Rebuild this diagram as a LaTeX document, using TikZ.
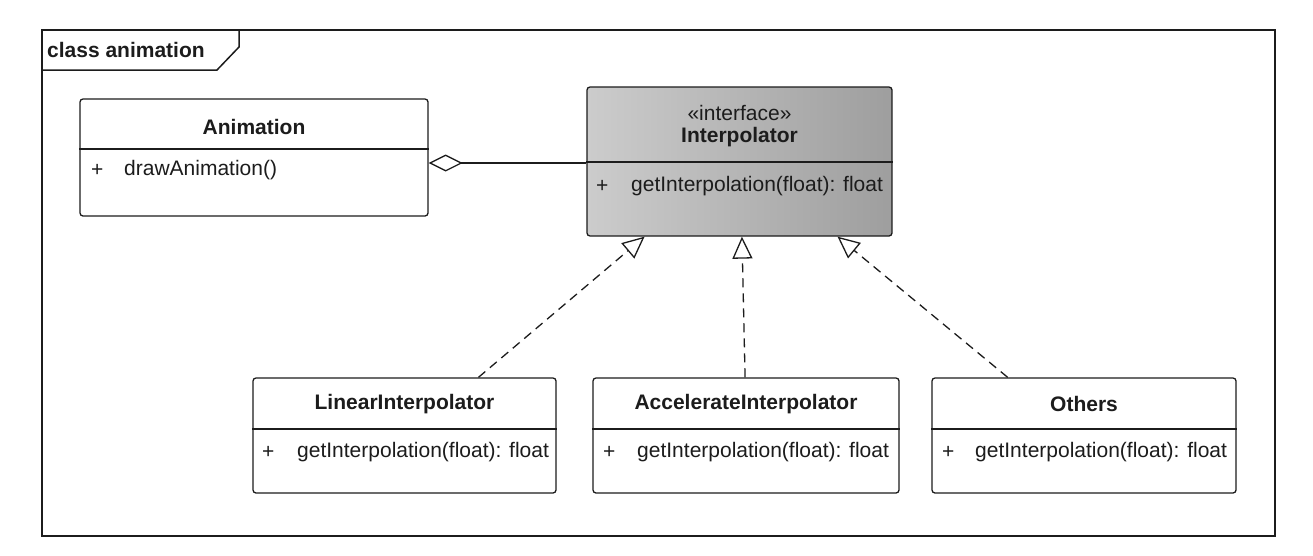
\documentclass[tikz,border=0pt]{standalone}
\usepackage{fontspec}
\setmainfont{Liberation Sans}
\usetikzlibrary{arrows.meta,calc}
\definecolor{ink}{HTML}{1C1C1C}
\begin{document}
\begin{tikzpicture}[x=1pt,y=-1pt,
  every node/.style={font=\fontsize{21}{24}\selectfont, text=ink},
  classbox/.style={draw=ink, line width=1.3pt, rounded corners=3pt, fill=white, inner sep=0pt},
  divider/.style={draw=ink, line width=1.3pt},
  ctitle/.style={font=\fontsize{21}{24}\selectfont\bfseries, inner sep=0pt},
  member/.style={anchor=west, inner sep=0pt},
  agg/.style={draw=ink, line width=1.3pt, -{Diamond[open, length=34pt, width=17pt, line width=1.3pt]}},
  real/.style={draw=ink, line width=1.3pt, dash pattern=on 9pt off 6pt, -{Triangle[open, length=22pt, width=20pt, line width=1.3pt]}},
  framebox/.style={draw=ink, line width=1.5pt}
]
\useasboundingbox (0,0) rectangle (1313,555);

% frame
\draw[framebox] (42,30) rectangle (1275,536);
\draw[framebox] (42,70) -- (217,70) -- (239,47) -- (239,30);
\node[member, font=\fontsize{21}{24}\selectfont\bfseries] (frametag) at (47,50) {class animation};

% Animation
\node[classbox, minimum width=348pt, minimum height=117pt] (anim) at (254,157.5) {};
\draw[divider] (anim.west |- 0,149) -- (anim.east |- 0,149);
\node[ctitle] (animT) at (254,127) {Animation};
\node[member] (animP) at (91,170) {+};
\node[member] (animM) at (124,170) {drawAnimation()};

% Interpolator
\node[classbox, left color=black!20, right color=black!38, minimum width=305pt, minimum height=149pt] (intf) at (739.5,161.5) {};
\draw[divider] (intf.west |- 0,162) -- (intf.east |- 0,162);
\node[inner sep=0pt] (intfS) at (739.5,113) {«interface»};
\node[ctitle] (intfT) at (739.5,137) {Interpolator};
\node[member] (intfP) at (596,186) {+};
\node[member] (intfM) at (631,186) {getInterpolation(float): float};

% Linear
\node[classbox, minimum width=303pt, minimum height=115pt] (lin) at (404.5,435.5) {};
\draw[divider] (lin.west |- 0,429) -- (lin.east |- 0,429);
\node[ctitle] (linT) at (404.5,404) {LinearInterpolator};
\node[member] (linP) at (262,452) {+};
\node[member] (linM) at (297,452) {getInterpolation(float): float};

% Accelerate
\node[classbox, minimum width=306pt, minimum height=115pt] (acc) at (746,435.5) {};
\draw[divider] (acc.west |- 0,429) -- (acc.east |- 0,429);
\node[ctitle] (accT) at (746,404) {AccelerateInterpolator};
\node[member] (accP) at (603,452) {+};
\node[member] (accM) at (637,452) {getInterpolation(float): float};

% Others
\node[classbox, minimum width=304pt, minimum height=115pt] (oth) at (1084,435.5) {};
\draw[divider] (oth.west |- 0,429) -- (oth.east |- 0,429);
\node[ctitle] (othT) at (1084,404) {Others};
\node[member] (othP) at (942,452) {+};
\node[member] (othM) at (975,452) {getInterpolation(float): float};

% aggregation
\draw[agg] ([yshift=-1.5pt]intf.west) -- ([yshift=-1.5pt]intf.west -| anim.east);

% realizations
\draw[real] ($(lin.north west)!0.743!(lin.north east)$) -- ($(intf.south west)!0.19!(intf.south east)$);
\draw[real] ($(acc.north west)!0.497!(acc.north east)$) -- ($(intf.south west)!0.508!(intf.south east)$);
\draw[real] ($(oth.north west)!0.25!(oth.north east)$) -- ($(intf.south west)!0.82!(intf.south east)$);
\end{tikzpicture}
\end{document}
